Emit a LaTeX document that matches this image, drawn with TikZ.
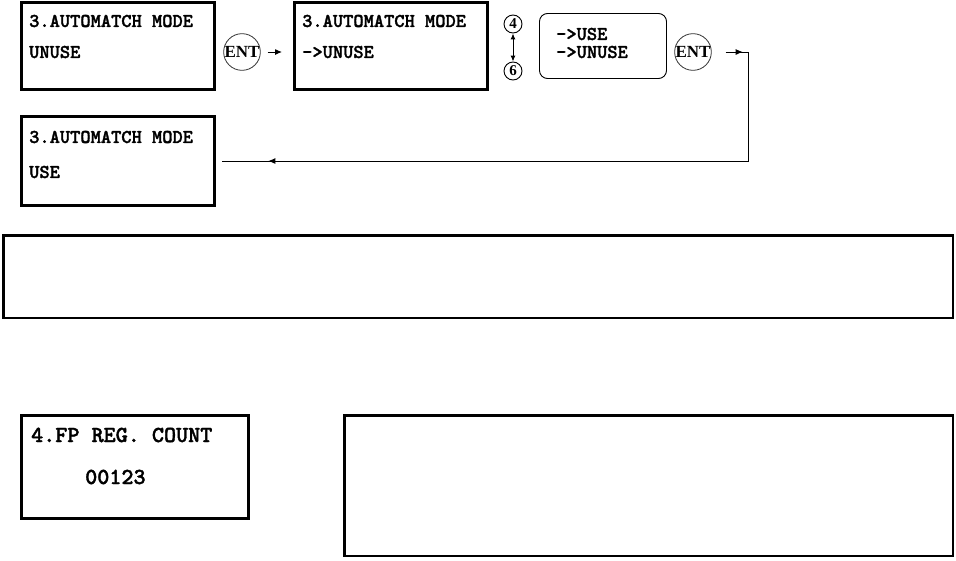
\documentclass[tikz,border=0pt]{standalone}
\usepackage{fontspec}
\setmainfont{Liberation Serif}
\newfontfamily\lcdfont{lmmonolt10-bold.otf}[FakeBold=1.6]
\usetikzlibrary{arrows.meta,decorations.markings}
\tikzset{
  lcd/.style={draw=black, line width=3pt, inner sep=0pt, fill=white},
  bigbox/.style={draw=black, line width=2.5pt, inner sep=0pt},
  optbox/.style={draw=black, line width=0.9pt, rounded corners=8pt, inner sep=0pt},
  lcdtext/.style={anchor=west, inner sep=0pt, font=\lcdfont\fontsize{19.5}{19.5}\selectfont},
  keycirc/.style={draw=black!80, line width=0.8pt, circle, inner sep=0pt, font=\bfseries\fontsize{17}{17}\selectfont},
  numcirc/.style={draw=black, line width=0.9pt, circle, inner sep=0pt, minimum size=18pt, font=\bfseries\fontsize{15}{15}\selectfont},
  tip/.style={-{Latex[length=7pt,width=6pt]}},
  conn/.style={line width=1pt, black}
}
\begin{document}
\begin{tikzpicture}[x=1pt,y=-1pt]
\useasboundingbox (0,0) rectangle (956,560);
% first row
\node[lcd, minimum width=193pt, minimum height=87pt] (box1) at (118,46) {};
\node[lcdtext] (b1l1) at (29,21) {3.AUTOMATCH MODE};
\node[lcdtext] (b1l2) at (29,52) {UNUSE};
\node[keycirc, minimum size=32pt] (ent1) at (242,52) {ENT};
\node[lcd, minimum width=193pt, minimum height=87pt] (box2) at (391,46) {};
\node[lcdtext] (b2l1) at (302,21) {3.AUTOMATCH MODE};
\node[lcdtext] (b2l2) at (302,52) {->UNUSE};
\node[numcirc] (c4) at (513,24) {4};
\node[numcirc] (c6) at (513,71) {6};
\node[optbox, minimum width=127pt, minimum height=65pt] (opt) at (603,46) {};
\node[lcdtext] (o1) at (556,34) {->USE};
\node[lcdtext] (o2) at (556,52) {->UNUSE};
\node[keycirc, minimum size=32pt] (ent2) at (693,52) {ENT};
% second row
\node[lcd, minimum width=193pt, minimum height=89pt] (box3) at (118,161) {};
\node[lcdtext] (b3l1) at (29,137) {3.AUTOMATCH MODE};
\node[lcdtext] (b3l2) at (29,172) {USE};
% connectors
\draw[conn, tip, shorten <=7pt, shorten >=11pt] (ent1.east) -- (ent1.east -| box2.west);
\draw[conn, {Latex[length=6pt,width=5pt]}-{Latex[length=6pt,width=5pt]}] (c4.south) -- (c6.north);
\coordinate (r1) at (748,52);
\draw[conn, shorten <=14pt, shorten >=6pt,
  postaction={decorate},
  decoration={markings,
    mark=at position 31pt with {\arrow{Latex[length=7pt,width=6pt]}},
    mark=at position 625pt with {\arrow{Latex[length=7pt,width=6pt]}}}]
  (ent2.east) -- (r1) -- (r1 |- box3.east) -- (box3.east);
% empty frame
\node[bigbox, minimum width=949.5pt, minimum height=82.5pt] (frameA) at (478,276.5) {};
% third row
\node[lcd, minimum width=227pt, minimum height=103pt] (box4) at (135,467) {};
\node[lcdtext, font=\lcdfont\fontsize{23}{23}\selectfont] (b4l1) at (31,435) {4.FP REG. COUNT};
\node[lcdtext, font=\lcdfont\fontsize{23}{23}\selectfont] (b4l2) at (85,477) {00123};
\node[bigbox, minimum width=608.5pt, minimum height=140.5pt] (frameB) at (648.5,485.5) {};
\end{tikzpicture}
\end{document}
